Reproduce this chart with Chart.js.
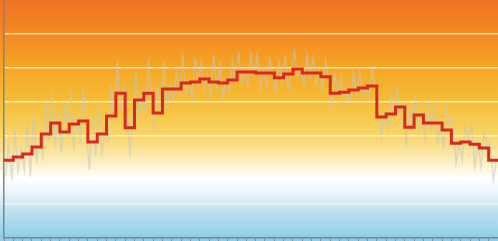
<!DOCTYPE html>
<html lang="en">
<head>
    <meta charset="UTF-8">
    <title>Stepped annual mean</title>
    <style>
        body { margin: 0; overflow: hidden; }
        #wrap { width: 498px; height: 241px; position: relative; }
    </style>
</head>
<body>
    <div id="wrap"><canvas id="chart"></canvas></div>

    <script src="https://cdn.jsdelivr.net/npm/chart.js"></script>
    <script>
        // years covered by the step line (each value holds for one year)
        const firstYear = 1961;
        const annualMeans = [
            2.29, 2.38, 2.47, 2.68, 3.06, 3.38, 3.12, 3.35, 3.44, 2.82,
            3.06, 3.59, 4.26, 3.24, 4.06, 4.26, 3.68, 4.38, 4.38, 4.56,
            4.59, 4.68, 4.59, 4.56, 4.65, 4.88, 4.88, 4.85, 4.85, 4.71,
            4.82, 4.97, 4.85, 4.85, 4.74, 4.26, 4.29, 4.35, 4.41, 4.47,
            3.56, 3.65, 3.85, 3.26, 3.62, 3.38, 3.38, 3.18, 2.79, 2.82,
            2.76, 2.65, 2.29
        ];
        // raw readings, three per year (faint grey trace)
        const rawReadings = [
            1.8, 2.8, 1.7,  3.2, 1.9, 2.6,  2.0, 3.4, 1.8,  3.7, 2.2, 3.0,
            2.4, 4.1, 2.9,  4.3, 2.7, 3.7,  2.5, 3.9, 3.3,  4.3, 2.6, 3.5,
            2.9, 4.4, 3.1,  2.0, 3.6, 2.4,  3.9, 2.5, 3.1,  3.0, 4.5, 3.5,
            5.2, 3.7, 4.5,  3.9, 2.4, 3.6,  4.9, 3.5, 4.3,  3.7, 5.3, 4.0,
            3.1, 4.5, 3.6,  5.2, 3.9, 4.5,  4.0, 4.9, 4.2,  5.4, 4.2, 4.6,
            4.1, 5.3, 4.5,  5.2, 4.3, 4.8,  4.2, 5.4, 4.4,  5.1, 4.1, 4.7,
            4.3, 5.2, 4.6,  5.5, 4.5, 4.9,  4.5, 5.4, 4.8,  5.4, 4.4, 5.0,
            4.5, 5.3, 4.8,  4.3, 5.2, 4.6,  5.3, 4.4, 4.9,  5.5, 4.7, 5.0,
            4.5, 5.4, 4.7,  5.3, 4.5, 4.9,  4.4, 5.2, 4.7,  3.8, 4.8, 4.2,
            4.8, 3.9, 4.3,  4.0, 4.9, 4.2,  4.9, 4.1, 4.4,  4.1, 5.0, 4.4,
            4.2, 3.0, 3.6,  3.2, 4.2, 3.6,  4.4, 3.4, 3.9,  2.7, 3.9, 3.3,
            4.2, 3.2, 3.6,  2.9, 4.1, 3.2,  3.9, 2.8, 3.4,  2.6, 3.8, 3.2,
            3.5, 2.2, 2.8,  2.3, 3.3, 2.9,  3.3, 2.1, 2.8,  2.1, 3.1, 2.7,
            2.8, 1.7, 2.3
        ];
        const yTicks = [0, 1, 2, 3, 4, 5, 6, 7];

        const stepPoints = annualMeans.map((v, i) => ({ x: firstYear + i, y: v }));
        // closing point so the last year gets its full width
        stepPoints.push({ x: firstYear + annualMeans.length, y: annualMeans[annualMeans.length - 1] });

        const rawPoints = rawReadings.map((v, i) => ({ x: firstYear + (i + 0.5) / 3, y: v }));

        // gradient behind the plot: orange -> yellow -> white -> blue
        const backdrop = {
            id: 'backdrop',
            beforeDraw(chart) {
                const { ctx, chartArea } = chart;
                const g = ctx.createLinearGradient(0, chartArea.top, 0, chartArea.bottom);
                g.addColorStop(0.00, 'rgb(239,116,38)');
                g.addColorStop(0.12, 'rgb(242,134,34)');
                g.addColorStop(0.28, 'rgb(245,165,36)');
                g.addColorStop(0.43, 'rgb(246,190,56)');
                g.addColorStop(0.57, 'rgb(248,213,104)');
                g.addColorStop(0.67, 'rgb(252,236,184)');
                g.addColorStop(0.75, 'rgb(255,255,255)');
                g.addColorStop(0.81, 'rgb(236,244,250)');
                g.addColorStop(0.88, 'rgb(196,226,241)');
                g.addColorStop(1.00, 'rgb(140,205,232)');
                ctx.save();
                ctx.fillStyle = g;
                ctx.fillRect(0, 0, chart.width, chart.height);
                ctx.restore();
            }
        };

        new Chart(document.getElementById('chart'), {
            type: 'line',
            data: {
                datasets: [{
                    data: stepPoints,
                    borderColor: '#d8291f',
                    borderWidth: 3,
                    stepped: true,
                    pointRadius: 0,
                    order: 1
                }, {
                    data: rawPoints,
                    borderColor: 'rgba(195,200,195,0.55)',
                    borderWidth: 1.5,
                    pointRadius: 0,
                    tension: 0,
                    order: 2
                }]
            },
            options: {
                responsive: true,
                maintainAspectRatio: false,
                animation: false,
                layout: { padding: { left: 4, right: 0, top: 0, bottom: 0 } },
                plugins: { legend: { display: false }, tooltip: { enabled: false } },
                scales: {
                    x: {
                        type: 'linear',
                        min: firstYear,
                        max: firstYear + annualMeans.length,
                        ticks: { display: false, stepSize: 1 },
                        grid: {
                            drawOnChartArea: false,
                            drawTicks: true,
                            tickLength: 3,
                            color: 'rgba(120,130,140,0.8)'
                        },
                        border: { color: '#7d8690', width: 1.5 }
                    },
                    y: {
                        min: yTicks[0],
                        max: yTicks[yTicks.length - 1],
                        afterBuildTicks: axis => { axis.ticks = yTicks.map(v => ({ value: v })); },
                        ticks: { display: false },
                        grid: {
                            drawTicks: false,
                            lineWidth: 1.5,
                            color: c => (c.tick.value === 0 || c.tick.value === 7) ? 'rgba(0,0,0,0)' : 'rgba(255,250,225,0.75)'
                        },
                        border: { color: '#7d8690', width: 1.5 }
                    }
                }
            },
            plugins: [backdrop]
        });
    </script>
</body>
</html>
